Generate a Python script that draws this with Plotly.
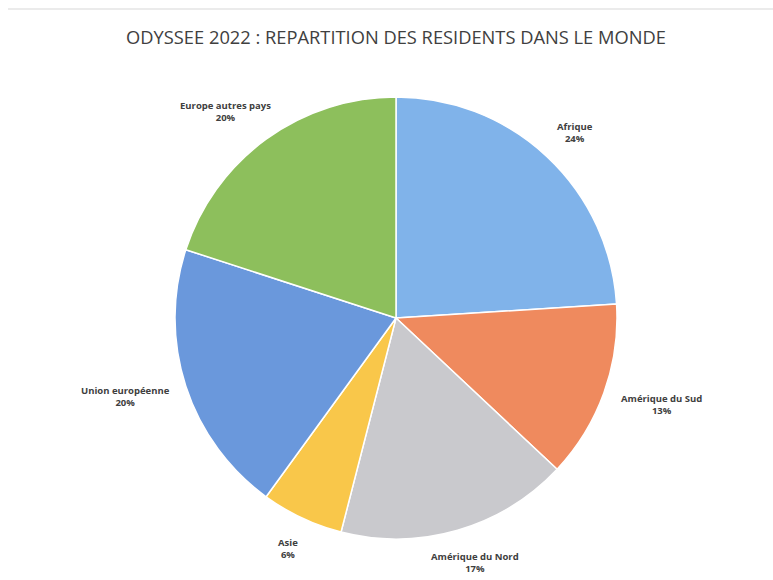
import math
import plotly.graph_objects as go

# Répartition des résidents par zone géographique (%)
regions = ["Afrique", "Amérique du Sud", "Amérique du Nord", "Asie",
           "Union européenne", "Europe autres pays"]
parts = [24, 13, 17, 6, 20, 20]
colors = ["#80b3ea", "#ef8a5e", "#c9c9cd", "#f9c74a", "#6a98dc", "#8dbf5c"]

W, H = 773, 580
cx, cy, R = 396, 318, 221  # pie centre and radius in pixels

fig = go.Figure(go.Pie(
    labels=regions,
    values=parts,
    sort=False,
    direction="clockwise",
    rotation=0,
    marker=dict(colors=colors, line=dict(color="white", width=1.5)),
    textinfo="none",
    hoverinfo="label+percent",
    domain=dict(x=[(cx - R) / W, (cx + R) / W],
                y=[1 - (cy + R) / H, 1 - (cy - R) / H]),
    showlegend=False,
))

# Labels sit just beyond each slice's outer edge, the text box pushed
# outward along the slice's mid-angle
total = sum(parts)
cum = 0
gap = 22
char_w, half_h = 5.2, 12
for name, v in zip(regions, parts):
    a = 2 * math.pi * (cum + v / 2) / total
    cum += v
    s, c = math.sin(a), math.cos(a)
    hw = len(name) * char_w / 2
    px = cx + (R + gap) * s + s * hw
    py = cy - (R + gap) * c - c * half_h
    fig.add_annotation(
        x=px / W, y=1 - py / H, xref="paper", yref="paper",
        text=f"<b>{name}</b><br><b>{round(100 * v / total)}%</b>",
        showarrow=False, xanchor="center", yanchor="middle",
        font=dict(family="Open Sans", size=9.5, color="#404040"),
    )

fig.add_shape(type="line", xref="paper", yref="paper",
              x0=8 / W, x1=1, y0=1 - 9 / H, y1=1 - 9 / H,
              line=dict(color="#e4e4e4", width=1.5))

fig.update_layout(
    width=W, height=H,
    margin=dict(l=0, r=0, t=0, b=0),
    paper_bgcolor="white",
    plot_bgcolor="white",
    title=dict(text="ODYSSEE 2022 : REPARTITION DES RESIDENTS DANS LE MONDE",
               x=cx / W, xanchor="center", y=1 - 38 / H, yanchor="middle",
               font=dict(family="Open Sans", size=18.3, color="#404040")),
)

fig.write_html("out.html")
